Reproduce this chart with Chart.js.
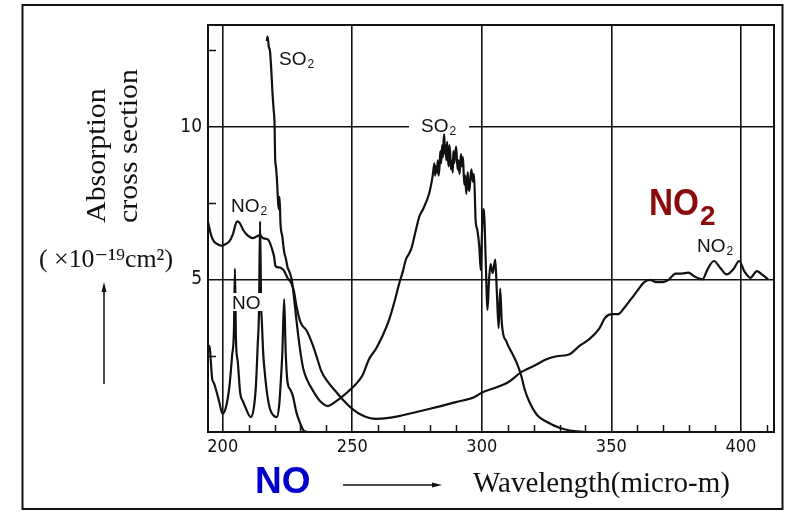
<!DOCTYPE html>
<html>
<head>
<meta charset="utf-8">
<script src="https://cdn.jsdelivr.net/npm/chart.js@4.4.1/dist/chart.umd.min.js"></script>
<style>
html,body{margin:0;padding:0;background:#fff;}
canvas{display:block;}
</style>
</head>
<body>
<canvas id="c" width="786" height="512"></canvas>
<script>
// ---- tick definitions ----
const xTickValues = [200,210,220,230,240,250,260,270,280,290,300,310,320,330,340,350,360,370,380,390,400,410];
const xTickLabels = [200,250,300,350,400];
const yTickValues = [0,2.5,5,7.5,10,12.5];
const yTickLabels = [5,10];

// ---- NO ----
const noWavelength = [193.8,194.4,194.9,195.4,195.9,196.6,197.5,198.6,199.9,201.2,202.6,203.6,204.3,204.7,205.1,205.8,206.7,207.8,208.7,210.8,212.0,212.8,213.5,214.0,214.4,214.8,215.1,215.6,216.2,217.2,218.2,219.5,220.9,221.8,222.3,223.0,223.7,224.3,225.0,226.0,227.0,228.4,229.8,231.1,232.5];
const noValue = [2.5,2.75,2.82,2.3,1.75,1.6,1.35,1.0,0.6,0.8,1.52,2.5,3.3,5.35,3.0,2.3,1.3,1.0,0.82,0.49,0.8,1.52,2.88,4.0,6.9,4.2,3.6,2.6,1.96,1.2,0.76,0.55,0.49,0.9,1.52,2.6,4.35,2.6,1.63,1.4,1.2,0.65,0.3,0.06,0];

// ---- NO2 ----
const no2Wavelength = [193.8,194.5,195.5,196.5,198.0,199.6,201.0,202.6,204.0,205.5,206.5,208.0,209.5,211.5,213.0,214.3,215.5,217.5,219.0,219.8,220.3,221.0,222.3,223.5,225.0,226.3,227.5,228.5,230.0,232.5,234.5,236.5,238.0,240.5,243.3,246.0,250.0,254.0,259.0,264.0,269.0,280.0,290.0,297.0,300.3,305.2,310.2,315.2,320.2,325.2,328.9,333.9,337.7,341.5,345.2,347.7,350.2,352.6,355.1,357.6,360.0,362.5,364.9,367.4,369.9,372.3,374.8,377.2,379.7,382.2,385.2,387.1,389.6,392.0,394.5,397.0,399.4,401.3,403.7,406.2,408.1,410.5];
const no2Value = [7.05,6.8,6.45,6.25,6.15,6.1,6.15,6.25,6.5,6.9,6.85,6.6,6.45,6.35,6.4,6.45,6.35,6.3,6.0,5.75,5.45,5.4,5.38,5.3,5.05,4.9,4.6,4.1,3.6,3.3,2.9,2.4,2.0,1.65,1.36,1.09,0.76,0.54,0.43,0.46,0.54,0.76,0.98,1.14,1.3,1.45,1.63,1.96,2.17,2.39,2.48,2.55,2.82,3.04,3.37,3.75,3.86,3.86,4.08,4.35,4.62,4.89,4.98,4.91,4.91,5.0,5.19,5.19,5.22,5.09,5.0,5.32,5.6,5.38,5.16,5.32,5.6,5.27,5.05,5.27,5.16,5.0];

// ---- SO2 ----
const so2Wavelength = [217.0,217.3,217.8,218.2,218.7,219.2,219.6,220.0,220.2,220.5,220.9,221.3,221.6,221.9,222.3,223.0,223.7,224.3,225.0,225.7,226.7,227.5,228.4,229.8,231.0,232.4,235.2,237.9,240.6,243.3,247.4,251.4,253.9,256.5,259.1,261.7,264.3,266.2,268.2,269.4,270.7,272.7,274.6,275.9,277.2,279.7,281.0,
  281.7,282.0,282.3,282.7,283.0,283.3,283.7,284.0,284.3,284.7,285.0,285.3,285.5,285.8,286.0,286.3,286.6,286.9,287.2,287.5,287.8,288.1,288.5,288.8,289.0,289.3,289.6,290.1,290.4,290.7,291.0,291.4,291.7,292.0,292.3,292.7,293.0,293.3,293.6,294.0,294.3,294.6,294.9,295.2,295.6,296.0,296.5,297.0,
  297.6,298.3,299.0,299.6,300.1,300.5,301.0,301.5,302.2,302.8,303.4,304.2,305.2,305.8,306.5,307.1,307.7,308.4,309.3,310.2,311.5,313.4,315.2,316.5,318.4,321.5,325.2,330.2,334.0,340.0];
const so2Value = [12.8,12.95,12.6,12.5,11.9,11.1,10.6,10.05,9.0,8.7,8.3,7.6,7.3,7.7,6.8,6.4,5.9,5.7,5.4,5.25,4.95,4.4,3.7,2.72,2.1,1.74,1.30,0.98,0.85,0.98,1.25,1.57,1.85,2.39,2.72,3.15,3.7,4.24,4.89,5.22,5.65,5.98,6.63,7.06,7.28,7.82,8.37,
  8.8,8.4,8.7,8.5,8.9,8.4,8.7,9.2,8.8,9.4,9.0,9.6,9.75,9.1,9.4,8.9,9.5,9.0,8.7,9.4,9.1,8.6,8.9,8.5,9.2,8.8,9.0,9.35,8.9,8.6,8.9,8.45,8.8,9.1,8.7,9.0,8.5,8.1,8.4,7.8,8.2,8.5,8.0,7.9,8.3,8.6,8.2,8.45,
  6.95,6.6,6.1,5.3,6.6,7.3,7.0,5.65,4.0,5.0,5.5,5.2,5.65,4.6,3.4,4.7,3.6,3.15,3.0,2.82,2.61,2.28,1.85,1.41,0.98,0.54,0.33,0.13,0.05,0];

function pts(w, v) { return w.map((x, i) => ({ x: x, y: v[i] })); }

const INK = '#111111';
const SERIF = "'Liberation Serif','DejaVu Serif',serif";
const SANS = "'Liberation Sans','DejaVu Sans',sans-serif";
const NARROW = "'DejaVu Sans Condensed','Liberation Sans Narrow','Liberation Sans',sans-serif";

function sub(ctx, main, subTxt, x, y, size) {
  ctx.font = size + "px " + SANS;
  ctx.fillText(main, x, y);
  const w = ctx.measureText(main).width;
  ctx.font = Math.round(size * 0.62) + "px " + SANS;
  ctx.fillText(subTxt, x + w + 1, y + 3);
}

const deco = {
  id: 'deco',
  beforeDatasetsDraw(chart) {
    const ctx = chart.ctx;
    ctx.save();
    ctx.fillStyle = '#fff';
    // gap in the 10-gridline for the SO2 label
    ctx.fillRect(409, 118, 60, 15);
    ctx.restore();
  },
  afterDatasetsDraw(chart) {
    const ctx = chart.ctx;
    const a = chart.chartArea;
    const xs = chart.scales.x, ys = chart.scales.y;
    ctx.save();
    ctx.strokeStyle = INK;
    ctx.lineWidth = 1.5;
    // inward minor ticks
    xTickValues.forEach(v => {
      if (v % 50 === 0) return;
      const px = Math.round(xs.getPixelForValue(v)) + 0.5;
      ctx.beginPath(); ctx.moveTo(px, a.bottom); ctx.lineTo(px, a.bottom - 7); ctx.stroke();
    });
    yTickValues.forEach(v => {
      if (v % 5 === 0) return;
      const py = Math.round(ys.getPixelForValue(v)) + 0.5;
      ctx.beginPath(); ctx.moveTo(a.left, py); ctx.lineTo(a.left + 8, py); ctx.stroke();
    });
    // plot frame
    ctx.lineWidth = 2;
    ctx.strokeRect(a.left, a.top, a.right - a.left, a.bottom - a.top);

    // curve labels
    ctx.fillStyle = INK;
    ctx.textBaseline = 'alphabetic';
    ctx.textAlign = 'left';
    sub(ctx, 'SO', '2', 279, 65, 19);
    sub(ctx, 'SO', '2', 421, 132, 19);
    sub(ctx, 'NO', '2', 231, 212, 19);
    ctx.fillStyle = '#fff';
    ctx.fillRect(229, 293, 34, 18);
    ctx.fillStyle = INK;
    ctx.font = "19px " + SANS;
    ctx.fillText('NO', 232, 309);
    sub(ctx, 'NO', '2', 697, 252, 19);
    ctx.restore();
  },
  afterDraw(chart) {
    const ctx = chart.ctx;
    ctx.save();
    ctx.fillStyle = INK;
    ctx.strokeStyle = INK;
    // outer frame
    ctx.lineWidth = 2;
    ctx.strokeRect(22.5, 5, 760, 504);

    // y-axis title (rotated)
    ctx.textAlign = 'left';
    ctx.textBaseline = 'alphabetic';
    ctx.font = "28px " + SERIF;
    ctx.save(); ctx.translate(105, 223); ctx.rotate(-Math.PI / 2); ctx.scale(1.07, 1);
    ctx.fillText('Absorption', 0, 0); ctx.restore();
    ctx.save(); ctx.translate(137, 223); ctx.rotate(-Math.PI / 2); ctx.scale(1.07, 1);
    ctx.fillText('cross section', 0, 0); ctx.restore();

    // unit
    ctx.font = "26px " + SERIF;
    ctx.fillText('( ×10⁻¹⁹cm²)', 39, 267, 134);

    // vertical arrow
    ctx.lineWidth = 1.5;
    ctx.beginPath(); ctx.moveTo(104, 384); ctx.lineTo(104, 290); ctx.stroke();
    ctx.beginPath(); ctx.moveTo(104, 282); ctx.lineTo(101.5, 292); ctx.lineTo(106.5, 292); ctx.closePath(); ctx.fill();

    // horizontal arrow
    ctx.beginPath(); ctx.moveTo(343, 485); ctx.lineTo(434, 485); ctx.stroke();
    ctx.beginPath(); ctx.moveTo(442, 485); ctx.lineTo(432, 482.5); ctx.lineTo(432, 487.5); ctx.closePath(); ctx.fill();

    // x-axis title
    ctx.font = "29px " + SERIF;
    ctx.fillText('Wavelength(micro-m)', 473, 492, 263);

    // coloured labels
    ctx.fillStyle = '#0000CC';
    ctx.font = "bold 37px " + SANS;
    ctx.fillText('NO', 255, 493, 58);

    ctx.fillStyle = '#8B0A0A';
    ctx.font = "bold 37px " + SANS;
    ctx.fillText('NO', 649, 215, 50);
    ctx.font = "bold 28px " + SANS;
    ctx.fillText('2', 700, 225);
    ctx.restore();
  }
};

const lineStyle = {
  borderColor: INK,
  borderWidth: 2.2,
  pointRadius: 0,
  showLine: true,
  fill: false,
  cubicInterpolationMode: 'monotone'
};

new Chart(document.getElementById('c'), {
  type: 'scatter',
  data: {
    datasets: [
      Object.assign({ label: 'NO', data: pts(noWavelength, noValue) }, lineStyle),
      Object.assign({ label: 'NO2', data: pts(no2Wavelength, no2Value) }, lineStyle),
      Object.assign({ label: 'SO2', data: pts(so2Wavelength, so2Value) }, lineStyle)
    ]
  },
  options: {
    responsive: false,
    animation: false,
    devicePixelRatio: 1,
    layout: { padding: { top: 25, right: 12, left: 0, bottom: 0 } },
    plugins: { legend: { display: false }, tooltip: { enabled: false } },
    scales: {
      x: {
        type: 'linear',
        min: 194.3,
        max: 412.8,
        afterBuildTicks: s => { s.ticks = xTickValues.map(v => ({ value: v })); },
        afterFit: s => { s.height = 80; },
        border: { display: false },
        grid: {
          drawTicks: false,
          lineWidth: 1.6,
          color: c => (c.tick && xTickLabels.includes(c.tick.value)) ? INK : 'rgba(0,0,0,0)'
        },
        ticks: {
          autoSkip: false,
          maxRotation: 0,
          padding: 5,
          color: INK,
          font: { family: NARROW, size: 18 },
          callback: v => xTickLabels.includes(v) ? String(v) : ''
        }
      },
      y: {
        min: 0,
        max: 13.33,
        afterBuildTicks: s => { s.ticks = yTickValues.map(v => ({ value: v })); },
        afterFit: s => { s.width = 208; },
        border: { display: false },
        grid: {
          drawTicks: false,
          lineWidth: 1.6,
          color: c => (c.tick && yTickLabels.includes(c.tick.value)) ? INK : 'rgba(0,0,0,0)'
        },
        ticks: {
          autoSkip: false,
          padding: 6,
          color: INK,
          font: { family: NARROW, size: 19 },
          callback: v => yTickLabels.includes(v) ? String(v) : ''
        }
      }
    }
  },
  plugins: [deco]
});
</script>
</body>
</html>
